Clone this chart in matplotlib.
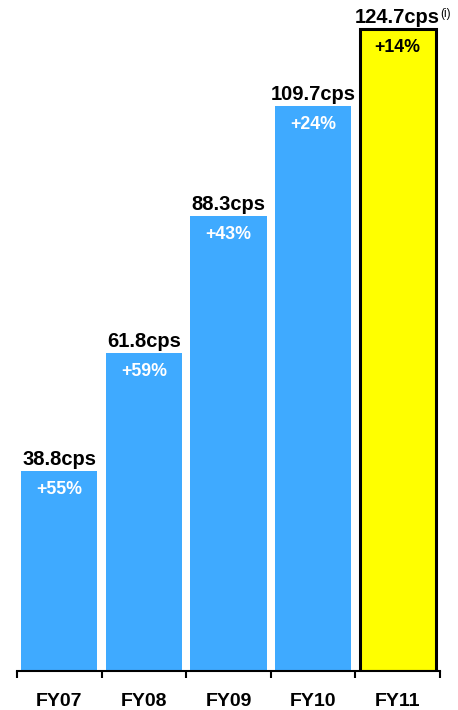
import matplotlib
matplotlib.use('Agg')
import matplotlib.pyplot as plt

plt.rcParams['font.family'] = ['Liberation Sans', 'DejaVu Sans']

years = ['FY07', 'FY08', 'FY09', 'FY10', 'FY11']
values = [38.8, 61.8, 88.3, 109.7, 124.7]
growth = ['+55%', '+59%', '+43%', '+24%', '+14%']

blue = '#3FAAFF'
yellow = '#FFFF00'

fig = plt.figure(figsize=(4.58, 7.10), dpi=100)
ax = fig.add_axes([17 / 458, 39 / 710, 423 / 458, 671 / 710])

x = list(range(len(years)))
colors = [blue] * 4 + [yellow]
edges = ['none'] * 4 + ['black']
bars = ax.bar(x, values, width=0.9, color=colors, edgecolor=edges, linewidth=[0, 0, 0, 0, 2.2])

for i, (v, g) in enumerate(zip(values, growth)):
    ax.text(i, v + 1.2, f'{v}cps', ha='center', va='baseline', fontsize=14.5, fontweight='bold')
    ax.text(i, v - 1.9, g, ha='center', va='top', fontsize=12.8, fontweight='bold',
            color='black' if i == 4 else 'white')

# footnote marker on the last label
ax.text(4 + 0.505, values[4] + 4.0, '(i)', ha='left', va='top', fontsize=8.5)

ax.set_xlim(-0.5, 4.5)
ax.set_ylim(0, 671 / 5.15)
ax.set_xticks([i - 0.5 for i in range(6)], minor=False)
ax.set_xticklabels([])
ax.set_xticks(x, minor=True)
ax.set_xticklabels(years, minor=True, fontsize=14, fontweight='bold')
ax.tick_params(axis='x', which='major', length=5, width=1.5, direction='out')
ax.tick_params(axis='x', which='minor', length=0, pad=16)
ax.set_yticks([])
for s in ['top', 'right', 'left']:
    ax.spines[s].set_visible(False)
ax.spines['bottom'].set_linewidth(1.5)

fig.savefig('out.png', dpi=100)
